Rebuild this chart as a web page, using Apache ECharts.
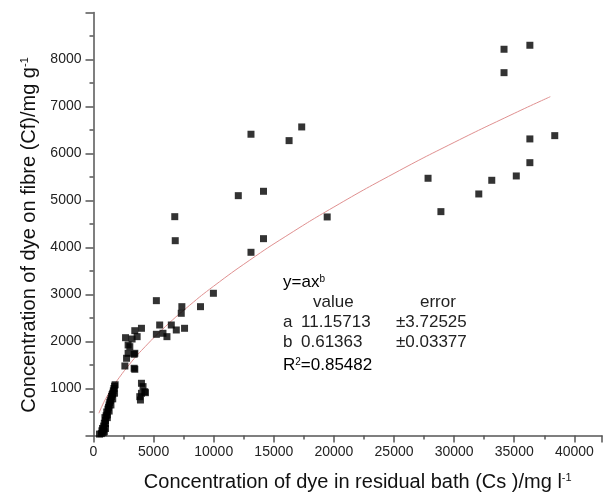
<!DOCTYPE html>
<html>
<head>
<meta charset="utf-8">
<script src="https://cdn.jsdelivr.net/npm/echarts@6/dist/echarts.min.js"></script>
<style>
  html, body { margin: 0; padding: 0; background: #fff; }
  #main { width: 605px; height: 499px; }
</style>
</head>
<body>
<div id="main"></div>
<script>
var dom = document.getElementById('main');
var myChart = echarts.init(dom);

// measured points (Cs, Cf)
var csValues = [
  500, 650, 800, 900, 700, 750, 850, 900, 1000, 950, 1050, 1150, 1100, 1200, 1250, 1300, 1350,
  1400, 1450, 1500, 1550, 1600, 1650, 1700, 1750, 1800, 1750, 1600, 1450, 1300, 1150, 1000, 850, 1000,
  2610, 3380, 2750, 2880, 3380, 3020, 3210, 2665, 3630, 3435, 3990, 2880, 3435, 3435,
  3990, 4120, 3990, 4320, 3905, 3850, 4263,
  5230, 6110, 5505, 6473, 5778, 6887, 7574, 7300, 7350, 8900, 5230, 9975,
  6760, 6800,
  13100, 14140, 12045, 14140, 13100, 16270, 17320, 19440,
  27830, 28900, 32050, 33130, 35170, 36300, 36300, 38370, 34150, 34150, 36300
];
var cfValues = [
  30, 40, 60, 80, 100, 150, 200, 260, 320, 380, 420, 440, 500, 560, 600, 650, 700,
  740, 780, 830, 870, 900, 950, 1000, 1050, 1080, 900, 780, 650, 520, 380, 250, 120, 150,
  1479, 1430, 1643, 1749, 1728, 1890, 2053, 2081, 2103, 2230, 2281, 1926, 1749, 1409,
  1111, 1040, 898, 911, 755, 826, 932,
  2153, 2103, 2351, 2351, 2175, 2245, 2281, 2600, 2741, 2741, 2869, 3026,
  4656, 4145,
  3898, 4188, 5103, 5196, 6410, 6274, 6565, 4650,
  5473, 4763, 5139, 5430, 5522, 5805, 6310, 6380, 7720, 8218, 8303
];

// fitted curve y = a x^b
var fitX = [450, 700, 1000, 1500, 2000, 3000, 4000, 6000, 8000, 10000, 13000, 16000, 20000, 25000, 30000, 35000, 38000];
var fitY = [474, 621, 774, 992, 1183, 1517, 1811, 2322, 2771, 3178, 3732, 4239, 4862, 5576, 6236, 6854, 7209];

var xTicks = [0, 5000, 10000, 15000, 20000, 25000, 30000, 35000, 40000];
var yTicks = [1000, 2000, 3000, 4000, 5000, 6000, 7000, 8000];

var pts = csValues.map(function (x, i) { return [x, cfValues[i]]; });
var fit = fitX.map(function (x, i) { return [x, fitY[i]]; });

var axisColor = '#555';
var font = 'Liberation Sans, Arial, sans-serif';
var txt = { fontFamily: font, fontSize: 17, color: '#222' };
var sup = { fontFamily: font, fontSize: 10, color: '#222', verticalAlign: 'top' };

option = {
  animation: false,
  backgroundColor: '#fff',
  grid: { left: 93.5, right: 0.5, top: 12.5, bottom: 63.5, containLabel: false },
  xAxis: {
    type: 'value',
    min: 0,
    max: 42300,
    interval: 5000,
    name: '{t|Concentration of dye in residual bath (Cs )/mg l}{s|-1}',
    nameLocation: 'middle',
    nameGap: 37,
    nameTextStyle: {
      padding: [0, 0, 0, 20],
      rich: {
        t: { fontFamily: font, fontSize: 20, color: '#111' },
        s: { fontFamily: font, fontSize: 11, color: '#111', verticalAlign: 'top' }
      }
    },
    axisLine: { lineStyle: { color: axisColor, width: 1.5 } },
    axisTick: { inside: false, length: 7, lineStyle: { color: axisColor, width: 1.5 } },
    minorTick: { show: true, splitNumber: 2, length: 4, lineStyle: { color: axisColor, width: 1.5 } },
    axisLabel: {
      margin: 10, fontFamily: font, fontSize: 14, color: '#222',
      formatter: function (v) { return xTicks.indexOf(v) >= 0 ? String(v) : ''; }
    },
    splitLine: { show: false }
  },
  yAxis: {
    type: 'value',
    min: 0,
    max: 9000,
    interval: 1000,
    name: '{t|Concentration of dye on fibre (Cf)/mg g}{s|-1}',
    nameLocation: 'middle',
    nameGap: 54,
    nameTextStyle: {
      padding: [0, 22, 0, 0],
      rich: {
        t: { fontFamily: font, fontSize: 20, color: '#111' },
        s: { fontFamily: font, fontSize: 11, color: '#111', verticalAlign: 'top' }
      }
    },
    axisLine: { lineStyle: { color: axisColor, width: 1.5 } },
    axisTick: { inside: false, length: 8, lineStyle: { color: axisColor, width: 1.5 } },
    minorTick: { show: true, splitNumber: 2, length: 4, lineStyle: { color: axisColor, width: 1.5 } },
    axisLabel: {
      margin: 12, fontFamily: font, fontSize: 14, color: '#222',
      formatter: function (v) { return yTicks.indexOf(v) >= 0 ? String(v) : ''; }
    },
    splitLine: { show: false }
  },
  graphic: [
    { type: 'text', left: 283, top: 274, style: { text: '{n|y=ax}{s|b}', rich: { n: txt, s: sup } } },
    { type: 'text', left: 313, top: 294, style: { text: 'value', font: '17px ' + font, fill: '#222' } },
    { type: 'text', left: 420, top: 294, style: { text: 'error', font: '17px ' + font, fill: '#222' } },
    { type: 'text', left: 283, top: 314, style: { text: 'a', font: '17px ' + font, fill: '#222' } },
    { type: 'text', left: 301, top: 314, style: { text: '11.15713', font: '17px ' + font, fill: '#222' } },
    { type: 'text', left: 396, top: 314, style: { text: '\u00b13.72525', font: '17px ' + font, fill: '#222' } },
    { type: 'text', left: 283, top: 334, style: { text: 'b', font: '17px ' + font, fill: '#222' } },
    { type: 'text', left: 301, top: 334, style: { text: '0.61363', font: '17px ' + font, fill: '#222' } },
    { type: 'text', left: 396, top: 334, style: { text: '\u00b10.03377', font: '17px ' + font, fill: '#222' } },
    { type: 'text', left: 283, top: 357, style: { text: '{n|R}{s|2}{n|=0.85482}', rich: { n: txt, s: sup } } }
  ],
  series: [
    {
      name: 'fit',
      type: 'line',
      data: fit,
      smooth: true,
      showSymbol: false,
      z: 1,
      lineStyle: { color: '#e09090', width: 1 }
    },
    {
      name: 'data',
      type: 'scatter',
      data: pts,
      symbol: 'rect',
      symbolSize: 7,
      z: 3,
      itemStyle: { color: '#000' }
    }
  ]
};

if (option && typeof option === 'object') {
  myChart.setOption(option, true);
}
</script>
</body>
</html>
